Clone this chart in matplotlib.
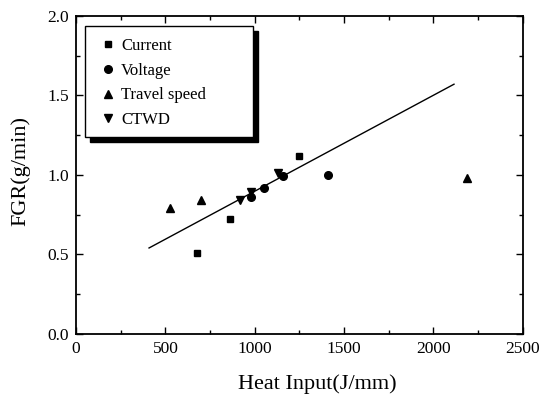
import numpy as np
import matplotlib.pyplot as plt
from matplotlib.patches import Rectangle
from matplotlib.ticker import MultipleLocator

plt.rcParams['font.family'] = ['Liberation Serif', 'DejaVu Serif']

# data
current_x = [677, 863, 1246]
current_y = [0.51, 0.72, 1.12]
voltage_x = [981, 1053, 1158, 1408]
voltage_y = [0.86, 0.92, 0.99, 1.00]
travel_x = [526, 699, 2188]
travel_y = [0.79, 0.84, 0.98]
ctwd_x = [919, 977, 1132]
ctwd_y = [0.84, 0.89, 1.01]
fit_x = [408, 2115]
fit_y = [0.54, 1.57]

fig = plt.figure(figsize=(5.44, 3.96), dpi=100)
ax = fig.add_axes([0.14, 0.157, 0.821, 0.803])

ax.plot(fit_x, fit_y, color='black', lw=1.0)
ax.plot(current_x, current_y, 's', color='black', ms=4.5, label='Current')
ax.plot(voltage_x, voltage_y, 'o', color='black', ms=5.5, label='Voltage')
ax.plot(travel_x, travel_y, '^', color='black', ms=6, label='Travel speed')
ax.plot(ctwd_x, ctwd_y, 'v', color='black', ms=6, label='CTWD')

ax.set_xlim(0, 2500)
ax.set_ylim(0, 2.0)
ax.xaxis.set_major_locator(MultipleLocator(500))
ax.xaxis.set_minor_locator(MultipleLocator(250))
ax.yaxis.set_major_locator(MultipleLocator(0.5))
ax.yaxis.set_minor_locator(MultipleLocator(0.25))
ax.yaxis.set_major_formatter(plt.FormatStrFormatter('%.1f'))
ax.tick_params(which='both', direction='in', top=True, right=True, labelsize=12.5, width=1)
ax.tick_params(which='major', length=5, pad=5)
ax.tick_params(which='minor', length=3)
for s in ax.spines.values():
    s.set_linewidth(1.3)

ax.set_xlabel('Heat Input(J/mm)', fontsize=16)
ax.set_ylabel('FGR(g/min)', fontsize=16)
ax.xaxis.set_label_coords(0.539, -0.128)
ax.yaxis.set_label_coords(-0.103, 0.513)

# legend box with a black drop shadow
dx, dy = 5 / 447, 5 / 318
ax.add_patch(Rectangle((0.020 + dx, 0.619 - dy), 0.376, 0.350, transform=ax.transAxes,
                       facecolor='black', edgecolor='black', zorder=4, clip_on=False))
ax.add_patch(Rectangle((0.020, 0.619), 0.376, 0.350, transform=ax.transAxes,
                       facecolor='white', edgecolor='black', lw=1.0, zorder=4.5, clip_on=False))

leg = ax.legend(loc='upper left', bbox_to_anchor=(0.060, 0.930), fontsize=12,
                frameon=False, handlelength=0.6, handletextpad=0.5, labelspacing=0.52,
                borderpad=0, borderaxespad=0)
leg.set_zorder(5)

fig.savefig('out.png', dpi=100)
